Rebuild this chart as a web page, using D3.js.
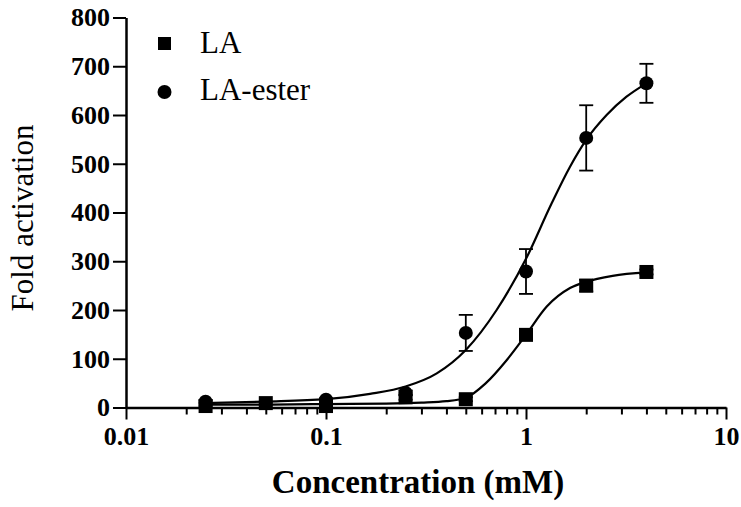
<!DOCTYPE html>
<html>
<head>
<meta charset="utf-8">
<script src="https://cdn.jsdelivr.net/npm/d3@7"></script>
<style>
  body { margin: 0; background: #fff; }
</style>
</head>
<body>
<script>
// measured points (concentration in mM)
var laConc = [0.025, 0.05, 0.1, 0.25, 0.5, 1, 2, 4]
var laValues = [3, 9, 3, 21, 17, 149, 250, 278]
var laErrors = [2, 3, 2, 5, 4, 6, 12, 5]

var esterConc = [0.025, 0.1, 0.25, 0.5, 1, 2, 4]
var esterValues = [12, 16, 30, 153, 279, 553, 665]
var esterErrors = [3, 3, 5, 37, 46, 67, 40]

// fitted curves
var laCurveX = [0.025, 0.05, 0.1, 0.2, 0.3, 0.4, 0.5, 0.63, 0.8, 1.0, 1.27, 1.66, 2.0, 2.71, 4]
var laCurveY = [6, 6, 7, 8, 10, 13, 20, 50, 97, 149, 207, 245, 258, 270, 277]
var esterCurveX = [0.025, 0.05, 0.1, 0.166, 0.25, 0.358, 0.5, 0.713, 1.0, 1.344, 1.66, 2.0, 2.53, 3.17, 4]
var esterCurveY = [9, 12, 17, 28, 43, 70, 118, 200, 305, 419, 494, 549, 600, 637, 665]

var xTicks = [0.01, 0.1, 1, 10]
var yTicks = [0, 100, 200, 300, 400, 500, 600, 700, 800]
var legendNames = ["LA", "LA-ester"]

var serif = "'Liberation Serif', 'DejaVu Serif', serif"
var body = d3.select("body")
const margin = {top: 17.5, left: 126}
const plotW = 600, plotH = 390

var svg = body.append("svg")
  .attr("width", 741)
  .attr("height", 507)
var g = svg.append("g")
  .attr("transform", "translate(" + margin.left + "," + margin.top + ")")

var x = d3.scaleLog().domain([0.01, 10]).range([0, plotW])
var y = d3.scaleLinear().domain([0, 800]).range([plotH, 0])

// minor ticks on the log axis
var minor = []
for (let dec of [0.01, 0.1, 1]) {
  for (let k = 2; k <= 9; k++) minor.push(dec * k)
}
g.append("g")
  .attr("transform", "translate(0," + plotH + ")")
  .call(d3.axisBottom(x).tickValues(minor).tickSize(7).tickSizeOuter(0).tickFormat(""))
  .call(s => s.select(".domain").remove())
  .call(s => s.selectAll("line").attr("stroke-width", 2))

var xAxis = g.append("g")
  .attr("transform", "translate(0," + plotH + ")")
  .call(d3.axisBottom(x).tickValues(xTicks).tickSize(12).tickSizeOuter(0)
    .tickPadding(6).tickFormat(d3.format("~g")))
xAxis.select(".domain").attr("stroke-width", 2.5)
xAxis.selectAll("line").attr("stroke-width", 2)
xAxis.selectAll("text")
  .style("font-size", "26px").style("font-weight", "bold")
  .attr("dy", "0.75em")

var yAxis = g.append("g")
  .call(d3.axisLeft(y).tickValues(yTicks).tickSize(13).tickSizeOuter(0).tickPadding(3))
yAxis.select(".domain").attr("stroke-width", 2.5)
yAxis.selectAll("line").attr("stroke-width", 2)
yAxis.selectAll("text")
  .style("font-size", "26px").style("font-weight", "bold")

// axis titles
svg.append("text")
  .attr("x", 418).attr("y", 493)
  .attr("text-anchor", "middle")
  .style("font-size", "33px").style("font-weight", "bold")
  .text("Concentration (mM)")

svg.append("text")
  .attr("transform", "translate(33,218) rotate(-90)")
  .attr("text-anchor", "middle")
  .style("font-size", "31px")
  .text("Fold activation")

// curves
var line = d3.line()
  .x(d => x(d[0]))
  .y(d => y(d[1]))
  .curve(d3.curveMonotoneX)

g.append("path")
  .datum(d3.zip(laCurveX, laCurveY))
  .attr("d", line)
  .attr("fill", "none").attr("stroke", "#000").attr("stroke-width", 2.2)
g.append("path")
  .datum(d3.zip(esterCurveX, esterCurveY))
  .attr("d", line)
  .attr("fill", "none").attr("stroke", "#000").attr("stroke-width", 2.2)

// error bars
function errorBars(conc, vals, errs) {
  var data = d3.zip(conc, vals, errs)
  var eb = g.append("g").attr("stroke", "#000").attr("stroke-width", 1.8)
  eb.selectAll(".v").data(data).enter().append("line")
    .attr("x1", d => x(d[0])).attr("x2", d => x(d[0]))
    .attr("y1", d => y(d[1] + d[2])).attr("y2", d => y(d[1] - d[2]))
  eb.selectAll(".t").data(data).enter().append("line")
    .attr("x1", d => x(d[0]) - 7).attr("x2", d => x(d[0]) + 7)
    .attr("y1", d => y(d[1] + d[2])).attr("y2", d => y(d[1] + d[2]))
  eb.selectAll(".b").data(data).enter().append("line")
    .attr("x1", d => x(d[0]) - 7).attr("x2", d => x(d[0]) + 7)
    .attr("y1", d => y(d[1] - d[2])).attr("y2", d => y(d[1] - d[2]))
}
errorBars(laConc, laValues, laErrors)
errorBars(esterConc, esterValues, esterErrors)

// markers
g.selectAll(".sq").data(d3.zip(laConc, laValues)).enter().append("rect")
  .attr("x", d => x(d[0]) - 7).attr("y", d => y(d[1]) - 7)
  .attr("width", 14).attr("height", 14).attr("fill", "#000")
g.selectAll(".ci").data(d3.zip(esterConc, esterValues)).enter().append("circle")
  .attr("cx", d => x(d[0])).attr("cy", d => y(d[1]))
  .attr("r", 7).attr("fill", "#000")

// legend
var legend = svg.append("g")
legend.append("rect")
  .attr("x", 158).attr("y", 37).attr("width", 13).attr("height", 13).attr("fill", "#000")
legend.append("circle")
  .attr("cx", 164.5).attr("cy", 92).attr("r", 7).attr("fill", "#000")
legend.selectAll(".lt").data(legendNames).enter().append("text")
  .attr("x", 200).attr("y", (d, i) => 53 + i * 47)
  .style("font-size", "31px")
  .text(d => d)

// all text in a Times-like serif
svg.selectAll("text")
  .attr("font-family", null)
  .style("font-family", serif)
  .attr("fill", "#000")
svg.selectAll("g").attr("font-family", null)
</script>
</body>
</html>
